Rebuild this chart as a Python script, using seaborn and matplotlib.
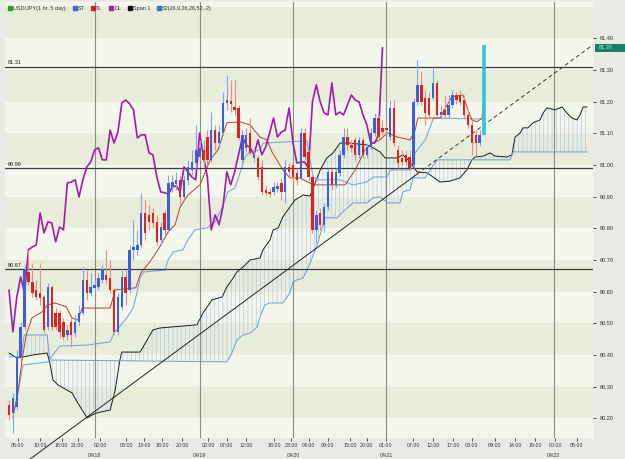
import numpy as np
import pandas as pd
import seaborn as sns
import matplotlib.pyplot as plt
import matplotlib.transforms as mtransforms
from matplotlib.lines import Line2D
from matplotlib.patches import Rectangle

# USD/JPY hourly candles (bar index 0..122)
opens = [80.242, 80.217, 80.236, 80.394, 80.488, 80.662, 80.630, 80.605, 80.596, 80.583,
         80.488, 80.615, 80.533, 80.533, 80.504, 80.463, 80.504, 80.469, 80.504, 80.533,
         80.637, 80.596, 80.612, 80.615, 80.637, 80.653, 80.643, 80.605, 80.473, 80.552,
         80.646, 80.605, 80.732, 80.732, 80.747, 80.848, 80.842, 80.848, 80.820, 80.763,
         80.848, 80.795, 80.930, 80.940, 80.953, 80.899, 80.953, 80.984, 81.006, 81.025,
         81.047, 81.088, 81.016, 81.110, 81.069, 81.101, 81.196, 81.202, 81.183, 81.180,
         81.016, 81.054, 81.101, 81.022, 81.022, 80.994, 80.921, 80.915, 80.915, 80.924,
         80.943, 80.915, 80.994, 81.000, 80.975, 80.959, 81.101, 81.041, 80.962, 80.795,
         80.848, 80.811, 80.867, 80.978, 80.937, 80.975, 81.032, 81.088, 81.063, 81.079,
         81.032, 81.079, 81.032, 81.057, 81.101, 81.148, 81.117, 81.117, 81.088, 81.180,
         81.047, 81.022, 81.032, 81.025, 81.000, 81.199, 81.253, 81.212, 81.212, 81.212,
         81.259, 81.158, 81.174, 81.158, 81.189, 81.221, 81.221, 81.205, 81.158, 81.126,
         81.095, 81.069, 81.095]
highs = [80.258, 80.280, 80.416, 80.504, 80.684, 80.732, 80.690, 80.637, 80.690, 80.590,
         80.627, 80.621, 80.548, 80.542, 80.517, 80.495, 80.517, 80.526, 80.558, 80.678,
         80.668, 80.659, 80.637, 80.659, 80.684, 80.732, 80.700, 80.612, 80.596, 80.675,
         80.668, 80.747, 80.826, 80.795, 80.912, 80.889, 80.874, 80.864, 80.842, 80.820,
         80.858, 80.968, 80.968, 80.978, 80.968, 80.968, 81.016, 81.047, 81.126, 81.079,
         81.079, 81.110, 81.167, 81.126, 81.126, 81.230, 81.284, 81.268, 81.268, 81.189,
         81.110, 81.117, 81.148, 81.054, 81.032, 81.016, 80.937, 80.927, 80.946, 80.946,
         80.959, 81.016, 81.006, 81.016, 80.990, 81.117, 81.117, 81.047, 80.968, 80.858,
         80.864, 80.880, 80.990, 80.990, 80.990, 81.047, 81.117, 81.117, 81.079, 81.088,
         81.088, 81.088, 81.069, 81.117, 81.164, 81.158, 81.142, 81.136, 81.205, 81.205,
         81.063, 81.047, 81.047, 81.047, 81.212, 81.332, 81.294, 81.237, 81.230, 81.309,
         81.268, 81.189, 81.221, 81.221, 81.237, 81.230, 81.237, 81.221, 81.174, 81.142,
         81.110, 81.110, 81.380]
lows = [80.195, 80.154, 80.226, 80.384, 80.479, 80.621, 80.583, 80.574, 80.558, 80.469,
        80.479, 80.479, 80.479, 80.454, 80.447, 80.447, 80.425, 80.457, 80.495, 80.526,
        80.574, 80.586, 80.599, 80.605, 80.627, 80.627, 80.596, 80.463, 80.463, 80.542,
        80.558, 80.596, 80.700, 80.716, 80.738, 80.763, 80.795, 80.801, 80.747, 80.747,
        80.779, 80.785, 80.915, 80.921, 80.874, 80.889, 80.937, 80.968, 80.990, 81.016,
        81.000, 81.000, 81.009, 81.047, 81.054, 81.095, 81.174, 81.167, 81.158, 81.079,
        81.006, 81.041, 81.032, 81.009, 80.953, 80.905, 80.902, 80.899, 80.905, 80.915,
        80.889, 80.880, 80.959, 80.946, 80.937, 80.953, 81.016, 80.953, 80.785, 80.754,
        80.795, 80.788, 80.858, 80.921, 80.927, 80.965, 81.022, 81.047, 81.041, 81.016,
        81.022, 81.022, 81.022, 81.047, 81.092, 81.079, 81.095, 81.098, 81.079, 81.060,
        80.990, 81.000, 81.000, 80.984, 80.990, 81.189, 81.189, 81.126, 81.148, 81.205,
        81.148, 81.148, 81.148, 81.148, 81.180, 81.193, 81.189, 81.148, 81.117, 81.032,
        81.028, 81.060, 81.095]
closes = [80.210, 80.264, 80.394, 80.488, 80.668, 80.630, 80.596, 80.583, 80.580, 80.479,
          80.615, 80.488, 80.488, 80.473, 80.457, 80.479, 80.463, 80.504, 80.533, 80.637,
          80.596, 80.615, 80.621, 80.643, 80.668, 80.637, 80.605, 80.473, 80.583, 80.646,
          80.596, 80.732, 80.741, 80.747, 80.848, 80.785, 80.820, 80.817, 80.757, 80.804,
          80.795, 80.943, 80.946, 80.953, 80.899, 80.953, 80.994, 81.009, 81.047, 81.054,
          81.016, 81.016, 81.110, 81.069, 81.104, 81.196, 81.205, 81.193, 81.174, 81.085,
          81.095, 81.095, 81.038, 81.032, 80.962, 80.915, 80.912, 80.908, 80.930, 80.934,
          80.915, 80.994, 80.978, 80.962, 80.953, 81.101, 81.025, 80.962, 80.795, 80.842,
          80.811, 80.867, 80.978, 80.937, 80.978, 81.032, 81.088, 81.063, 81.054, 81.032,
          81.079, 81.032, 81.057, 81.101, 81.148, 81.088, 81.104, 81.110, 81.180, 81.069,
          81.006, 81.009, 81.009, 80.990, 81.199, 81.253, 81.199, 81.164, 81.158, 81.259,
          81.158, 81.167, 81.158, 81.189, 81.221, 81.205, 81.199, 81.158, 81.126, 81.069,
          81.069, 81.095, 81.370]

# Ichimoku lines, read as (bar index, price) vertices
tl_x = [1.0, 2.3, 3.3, 4.4, 5.9, 8.5, 10.0, 11.8, 14.7, 16.2, 17.7, 18.8, 26.0, 27.3, 32.6,
        33.9, 36.2, 38.3, 40.9, 42.7, 44.0, 46.0, 49.1, 51.7, 53.7, 56.0, 59.4, 62.0, 64.5,
        66.3, 67.6, 70.4, 72.2, 74.8, 78.2, 86.4, 89.0, 91.5, 93.3, 95.4, 97.2, 99.8, 103.1,
        104.4, 105.1, 110.8, 112.6, 113.9, 116.7, 118.0, 119.0, 120.3, 121.6, 122.0]
tl_y = [80.201, 80.283, 80.378, 80.463, 80.517, 80.536, 80.558, 80.564, 80.552, 80.517,
        80.510, 80.548, 80.548, 80.605, 80.612, 80.659, 80.694, 80.732, 80.788, 80.811,
        80.867, 80.905, 80.937, 81.016, 81.047, 81.133, 81.136, 81.126, 81.088, 81.079,
        81.041, 80.984, 80.959, 80.959, 80.937, 80.937, 80.984, 81.047, 81.069, 81.079,
        81.101, 81.088, 81.079, 81.110, 81.148, 81.148, 81.189, 81.215, 81.221, 81.174,
        81.142, 81.136, 81.148, 81.205]

st_x = [1.5, 2.8, 3.6, 10.0, 11.8, 13.1, 20.0, 26.0, 27.0, 30.3, 31.9, 32.9, 33.7, 34.7,
        40.1, 40.9, 42.2, 44.7, 46.0, 47.8, 50.9, 53.0, 54.8, 56.3, 58.1, 59.4, 60.7, 62.0,
        64.5, 65.3, 76.6, 77.4, 78.2, 79.2, 85.1, 88.4, 92.0, 93.6, 97.2, 98.0, 103.1, 104.4,
        107.0, 108.3, 109.1, 122.0]
st_y = [80.233, 80.312, 80.368, 80.378, 80.409, 80.428, 80.431, 80.441, 80.469, 80.517,
        80.548, 80.596, 80.643, 80.662, 80.668, 80.700, 80.725, 80.732, 80.763, 80.795,
        80.801, 80.820, 80.867, 80.915, 80.927, 80.975, 81.025, 81.041, 81.047, 81.069,
        81.076, 81.016, 80.962, 80.953, 80.953, 80.937, 80.946, 80.962, 80.962, 80.984,
        80.984, 81.038, 81.079, 81.120, 81.148, 81.145]

span1_x = [0.0, 2.1, 6.2, 9.8, 10.5, 11.3, 12.6, 16.2, 17.7, 20.1, 21.3, 22.6, 26.0, 27.3,
           28.5, 29.0, 33.7, 35.5, 37.0, 38.8, 48.3, 49.9, 52.2, 54.8, 56.0, 57.3, 58.6, 60.2,
           62.0, 64.5, 65.3, 67.1, 67.9, 69.2, 70.4, 72.2, 73.5, 75.6, 77.4, 80.0, 81.7, 83.3,
           85.1, 87.7, 92.0, 93.6, 95.4, 96.7, 99.8, 101.3, 103.1, 104.9, 107.5, 110.8, 113.4,
           115.9, 117.7, 119.0, 119.8, 121.9, 123.7, 124.9, 128.0, 129.3, 130.1, 131.4, 132.1,
           133.4, 134.7, 136.5, 137.3, 138.3, 140.4, 142.2, 143.4, 144.7, 146.0, 146.8, 147.6,
           148.6]
span1_y = [80.406, 80.390, 80.400, 80.406, 80.375, 80.321, 80.305, 80.280, 80.248, 80.201,
           80.210, 80.217, 80.226, 80.289, 80.384, 80.409, 80.409, 80.447, 80.479, 80.485,
           80.495, 80.533, 80.574, 80.583, 80.615, 80.637, 80.662, 80.678, 80.700, 80.706,
           80.732, 80.763, 80.795, 80.801, 80.836, 80.867, 80.889, 80.905, 80.902, 80.984,
           81.022, 81.038, 81.069, 81.069, 81.063, 81.054, 81.041, 81.022, 81.022, 81.032,
           81.009, 80.978, 80.975, 80.946, 80.949, 80.959, 80.984, 81.016, 81.025, 81.028,
           81.038, 81.028, 81.025, 81.032, 81.088, 81.101, 81.117, 81.117, 81.133, 81.142,
           81.164, 81.180, 81.174, 81.183, 81.164, 81.148, 81.142, 81.158, 81.183, 81.183]

span2_x = [0.0, 3.1, 3.9, 9.8, 10.5, 56.0, 57.3, 58.6, 60.2, 62.0, 63.8, 64.5, 65.8, 67.1,
           70.4, 72.2, 73.0, 74.0, 75.6, 77.4, 79.4, 81.2, 84.3, 85.9, 88.4, 92.0, 93.6, 95.4,
           97.4, 100.5, 101.3, 103.1, 103.9, 107.0, 109.1, 110.1, 128.8, 129.6, 148.6]
span2_y = [80.394, 80.394, 80.463, 80.463, 80.384, 80.378, 80.406, 80.447, 80.463, 80.469,
           80.488, 80.520, 80.558, 80.564, 80.564, 80.596, 80.630, 80.637, 80.643, 80.690,
           80.754, 80.833, 80.833, 80.852, 80.880, 80.880, 80.896, 80.899, 80.880, 80.880,
           80.915, 80.921, 80.959, 80.959, 81.000, 81.016, 81.016, 81.041, 81.041]

# trend line anchors (start, end of solid part, end of dashed projection)
trend_x = [5.4, 104.9, 150.1]
trend_y = [80.071, 80.971, 81.379]

levels = [81.31, 80.99, 80.67]
day_pos = [22, 49, 73, 97, 140]
day_labels = ['04/18', '04/19', '04/20', '04/21', '04/22']
hour_ticks = [2.3, 8.0, 13.5, 17.7, 23.4, 30.1, 34.7, 39.3, 44.5, 51.2, 56.0, 60.9, 68.1,
              72.5, 77.1, 82.0, 87.7, 92.0, 96.9, 103.9, 109.0, 114.1, 119.0, 124.9, 130.1,
              135.2, 140.4, 146.0]
hour_labels = ['05:00', '10:00', '16:00', '21:00', '02:00', '08:00', '13:00', '18:00',
               '20:00', '02:00', '07:00', '12:00', '18:00', '23:00', '04:00', '09:00',
               '15:00', '20:00', '01:00', '07:00', '12:00', '17:00', '03:00', '09:00',
               '14:00', '19:00', '00:00', '05:00']
legend_labels = ['USD/JPY(1 hr. 5 day)', 'ST', 'TL', 'DL', 'Span 1', 'S2(26,9,26,26,52,-2)']
legend_colors = ['#2aa02a', '#3d6fd0', '#d42020', '#a020a0', '#111111', '#3d6fd0']
last_price = 81.37

sns.set_style('white')
plt.rcParams['font.family'] = ['Liberation Sans', 'DejaVu Sans']
plt.rcParams['hatch.linewidth'] = 0.45

fig = plt.figure(figsize=(6.25, 4.59), dpi=100, facecolor='#ebe9e4')
ax = fig.add_axes([0.008, 0.046, 0.9408, 0.950])
ax.set_xlim(-1.03, 150.13)
ax.set_ylim(80.138, 81.515)
ax.set_facecolor('#f3f6eb')

# background stripes every 0.10
for lo in np.arange(80.1, 81.5, 0.1):
    if round(lo * 10) % 2 == 0:
        ax.axhspan(lo, lo + 0.1, color='#e8eddb', lw=0, zorder=0)

for d in day_pos:
    ax.axvline(d, color='#8c8c8c', lw=0.8, zorder=0.5)

# cloud between span 1 and span 2
ax.fill(np.concatenate([span1_x, span2_x[::-1]]), np.concatenate([span1_y, span2_y[::-1]]),
        facecolor='none', edgecolor='#a8c7e6', hatch='||||', lw=0, zorder=1)

sns.lineplot(x=span1_x, y=span1_y, ax=ax, color='#1e1e1e', lw=0.7, sort=False, estimator=None, zorder=2)
sns.lineplot(x=span2_x, y=span2_y, ax=ax, color='#6f9bd2', lw=0.7, sort=False, estimator=None, zorder=2)
sns.lineplot(x=st_x, y=st_y, ax=ax, color='#7fa7da', lw=0.8, sort=False, estimator=None, zorder=2.5)
sns.lineplot(x=tl_x, y=tl_y, ax=ax, color='#b8402e', lw=0.7, sort=False, estimator=None, zorder=2.6)

yblend = mtransforms.blended_transform_factory(ax.transAxes, ax.transData)
for lv in levels:
    ax.axhline(lv, color='#3c3c3c', lw=0.9, zorder=2.7)
    ax.text(0.004, lv + 0.004, f'{lv:.2f}', transform=yblend,
            fontsize=4, color='#222222', va='bottom', ha='left', zorder=5)

# delayed line: close plotted 26 bars back
dl = closes[26:]
sns.lineplot(x=np.arange(len(dl)), y=dl, ax=ax, color='#a01ca8', lw=1.2, sort=False, estimator=None, zorder=3)

# candles
o, h, l, c = map(np.array, (opens, highs, lows, closes))
x = np.arange(len(c))
up = c >= o
body_col = np.where(up, '#3b5fd8', '#e0221e')
wick_col = np.where(up, '#8aa2ea', '#e88d84')
n = len(c) - 1
ax.vlines(x[:n], l[:n], h[:n], colors=wick_col[:n], lw=0.8, zorder=4)
ax.bar(x[:n], np.maximum(np.abs(c - o), 0.004)[:n], bottom=np.minimum(o, c)[:n],
       width=0.62, color=body_col[:n], lw=0, zorder=4.2)
ax.vlines(x[n], l[n], h[n], colors='#35c2dc', lw=2.6, zorder=4.5)

# trend line
ax.plot(trend_x[:2], trend_y[:2], color='#222222', lw=0.7, clip_on=False, zorder=3.5)
ax.plot(trend_x[1:], trend_y[1:], color='#333333', lw=0.7, ls=(0, (4, 3)), zorder=3.5)

# axes cosmetics
for s in ax.spines.values():
    s.set_visible(False)
ax.yaxis.tick_right()
yt = np.round(np.arange(80.2, 81.41, 0.1), 2)
ax.set_yticks(yt)
ax.set_yticklabels([f'{v:.2f}' for v in yt])
ax.set_xticks(hour_ticks)
ax.set_xticklabels(hour_labels)
ax.tick_params(axis='y', right=True, length=2, width=0.6, pad=3, labelsize=4, colors='#333333')
ax.tick_params(axis='x', bottom=True, length=2, width=0.6, pad=2, labelsize=3.8, colors='#333333')
ax.set_xlabel('')
ax.set_ylabel('')

tr = mtransforms.blended_transform_factory(ax.transData, ax.transAxes)
for d, lab in zip(day_pos, day_labels):
    ax.text(d, -0.040, lab, transform=tr, fontsize=3.8, color='#333333', ha='center', va='center')

# current price tag
ax.add_patch(Rectangle((1.003, last_price - 0.012), 0.06, 0.024, transform=yblend,
                       facecolor='#17806a', edgecolor='none', clip_on=False, zorder=6))
ax.text(1.010, last_price, f'{last_price:.2f}', transform=yblend, fontsize=4, color='#d8f0e6',
        va='center', ha='left', clip_on=False, zorder=7)

handles = [Line2D([], [], ls='none', marker='s', ms=2.6, mfc=col, mec=col) for col in legend_colors]
ax.legend(handles, legend_labels, loc='upper left', bbox_to_anchor=(0.0, 1.0), ncol=6, frameon=False,
          fontsize=4, handlelength=0.5, handletextpad=0.3, columnspacing=1.3, borderaxespad=0.3,
          labelcolor='#333333')

fig.savefig('out.png', dpi=100, facecolor=fig.get_facecolor())
